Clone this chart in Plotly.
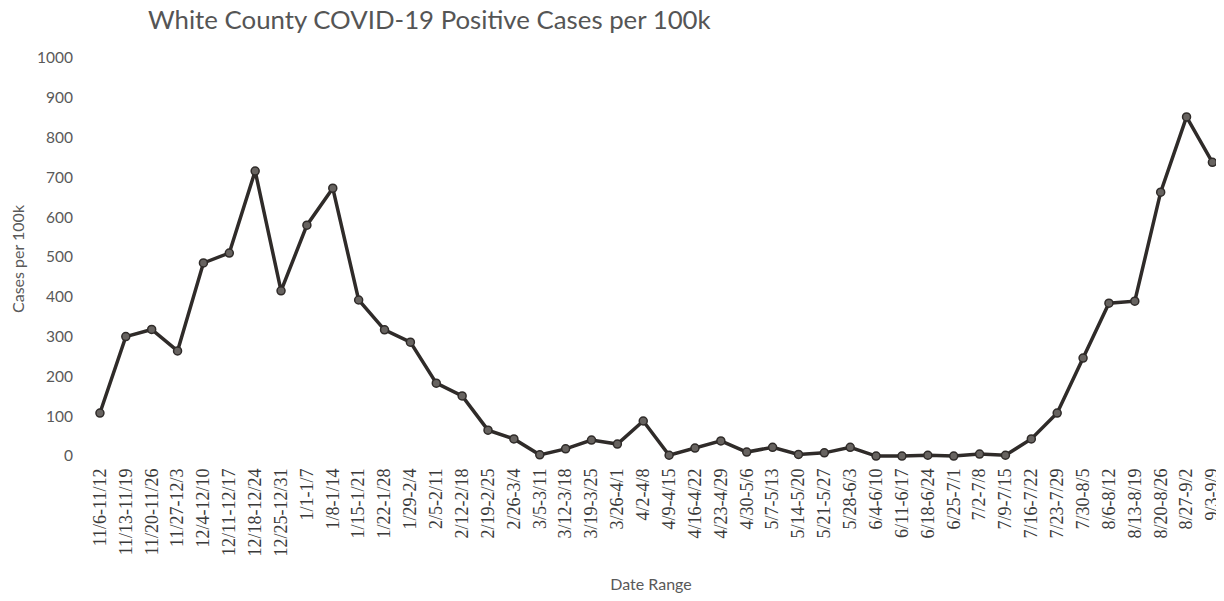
import plotly.graph_objects as go

date_ranges = [
    "11/6-11/12", "11/13-11/19", "11/20-11/26", "11/27-12/3", "12/4-12/10",
    "12/11-12/17", "12/18-12/24", "12/25-12/31", "1/1-1/7", "1/8-1/14",
    "1/15-1/21", "1/22-1/28", "1/29-2/4", "2/5-2/11", "2/12-2/18",
    "2/19-2/25", "2/26-3/4", "3/5-3/11", "3/12-3/18", "3/19-3/25",
    "3/26-4/1", "4/2-4/8", "4/9-4/15", "4/16-4/22", "4/23-4/29",
    "4/30-5/6", "5/7-5/13", "5/14-5/20", "5/21-5/27", "5/28-6/3",
    "6/4-6/10", "6/11-6/17", "6/18-6/24", "6/25-7/1", "7/2-7/8",
    "7/9-7/15", "7/16-7/22", "7/23-7/29", "7/30-8/5", "8/6-8/12",
    "8/13-8/19", "8/20-8/26", "8/27-9/2", "9/3-9/9",
]
cases_per_100k = [
    108, 300, 318, 264, 485, 510, 716, 415, 580, 673,
    392, 317, 286, 183, 151, 65, 43, 3, 18, 40,
    30, 88, 2, 20, 38, 10, 22, 4, 8, 22,
    0, 0, 2, 0, 5, 2, 43, 108, 246, 384,
    389, 663, 852, 738,
]
y_ticks = [0, 100, 200, 300, 400, 500, 600, 700, 800, 900, 1000]

fig = go.Figure()
fig.add_trace(go.Scatter(
    x=date_ranges, y=cases_per_100k, mode="lines+markers",
    line=dict(color="#2f2b29", width=3.5),
    marker=dict(size=8, color="#676360", line=dict(color="#2f2b29", width=1.5)),
    cliponaxis=False,
))

fig.update_layout(
    width=1216, height=585,
    paper_bgcolor="white", plot_bgcolor="white",
    margin=dict(l=79, r=9, t=46, b=129),
    showlegend=False,
    title=dict(
        text="White County COVID-19 Positive Cases per 100k",
        x=0.1151, xanchor="left", y=1.0, yanchor="top",
        pad=dict(t=3, b=0),
        font=dict(family="Lato", size=25.8, color="#555555"),
    ),
    xaxis=dict(
        type="category", range=[-0.5, 43.1], automargin=False,
        tickangle=-90, showgrid=False, zeroline=False, showline=False,
        ticks="", tickfont=dict(family="Liberation Serif", size=18, color="#3a3a3a"),
        title=dict(text="Date Range", standoff=29,
                   font=dict(family="Lato", size=16, color="#595959")),
    ),
    yaxis=dict(
        range=[-20, 1010], tickvals=y_ticks, automargin=False,
        showgrid=False, zeroline=False, showline=False, ticks="",
        tickfont=dict(family="Lato", size=15.5, color="#595959"),
        ticklabelstandoff=13,
        title=dict(text="Cases per 100k", standoff=13,
                   font=dict(family="Lato", size=16, color="#595959")),
    ),
)

fig.write_html("out.html")
